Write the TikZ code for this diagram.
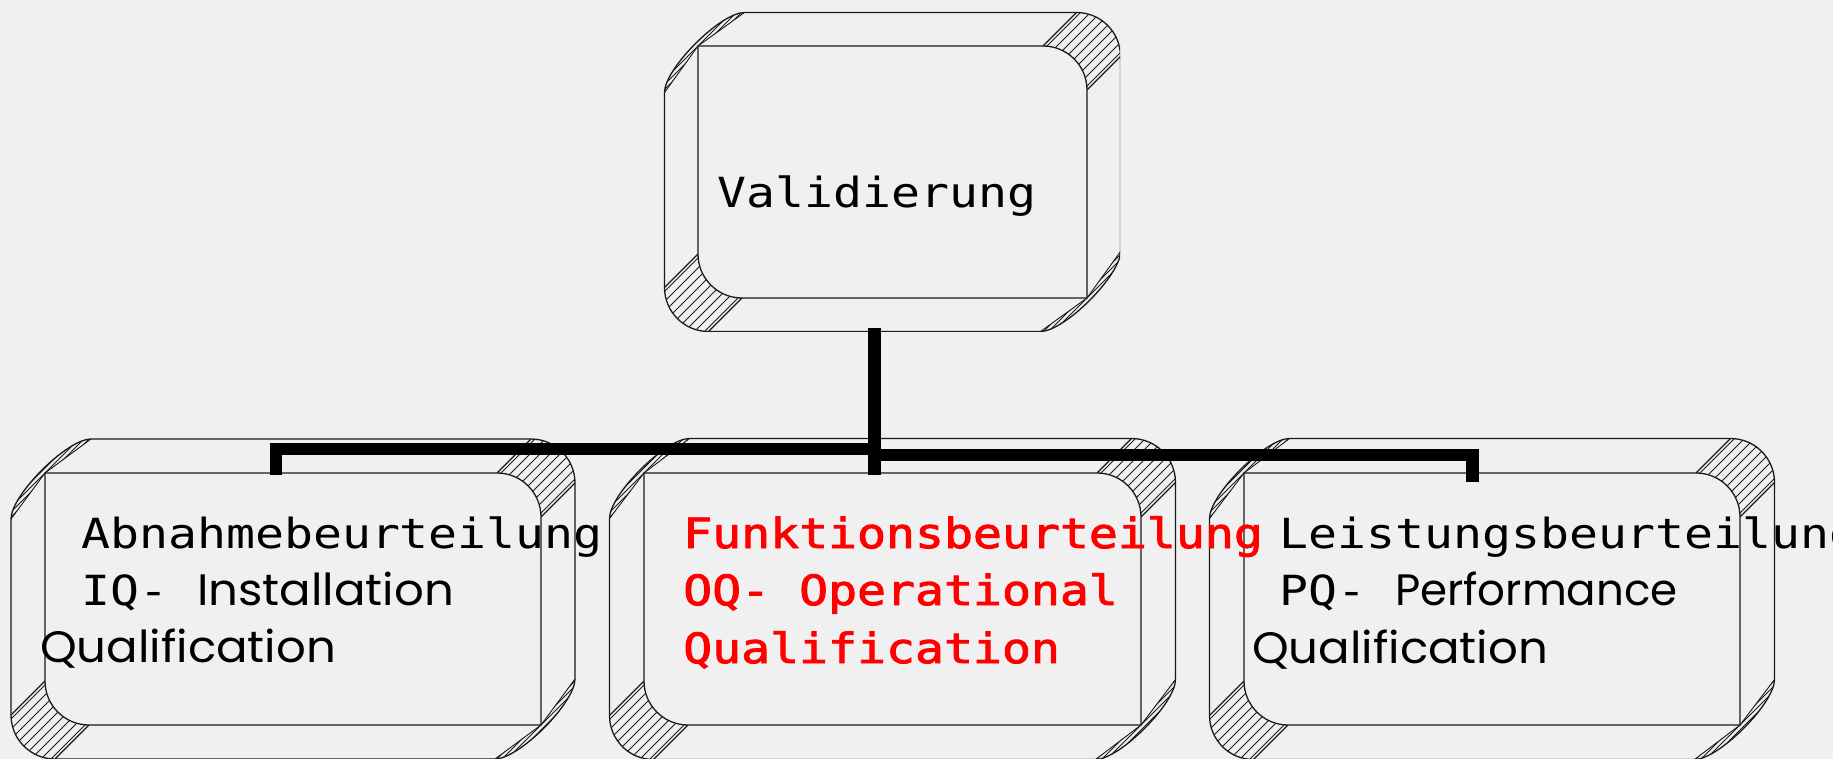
\documentclass[tikz,border=0pt]{standalone}
\usepackage{fontspec}
\newfontfamily\monofam[FakeStretch=1.16]{DejaVu Sans Mono}
\newfontfamily\monoboldfam[FakeStretch=1.16,FakeBold=2.2]{DejaVu Sans Mono}
\newfontfamily\handfam[FakeStretch=1.06]{Poppins}
\definecolor{bg}{HTML}{F0F0F0}
\definecolor{edge}{HTML}{1A1A1A}
\tikzset{
  frame/.style={draw=edge, line width=1.3pt},
  hline/.style={draw=edge, line width=0.9pt},
  area/.style={draw=none, inner sep=0pt, rectangle},
  conn/.style={draw=black, line width=12.5pt, line cap=butt, line join=miter},
  monotxt/.style={font=\monofam\fontsize{41.5pt}{50pt}\selectfont, anchor=base west, inner sep=0pt, text=black},
  redtxt/.style={monotxt, font=\monoboldfam\fontsize{41.5pt}{50pt}\selectfont, text=red},
  handtxt/.style={font=\handfam\fontsize{44pt}{50pt}\selectfont, anchor=base west, inner sep=0pt, text=black},
}
\newcommand\handsz{\handfam\fontsize{44pt}{50pt}\selectfont}
% 45 degree hatching around (#1,#2) with spacing #3, inside the current clip
\newcommand\hatchlines[3]{%
  \foreach \t in {-160,-\the\numexpr160-#3\relax,...,160}
    \draw[hline] (#1+\t-150,#2+150) -- (#1+\t+150,#2-150);%
}
% bevelled frame: inner rectangle (#1,#2)-(#3,#4), bevel depth #5
\def\rr{44}\def\kk{24.3}\def\RR{80}\def\cc{24}
\newcommand\bevelbox[5]{%
  \pgfmathsetmacro\bxA{#1-#5}\pgfmathsetmacro\byA{#2-#5}%
  \pgfmathsetmacro\bxB{#3+#5}\pgfmathsetmacro\byB{#4+#5}%
  % upper right face
  \begin{scope}
    \clip (#3-\rr,#2) .. controls (#3-\rr+\kk,#2) and (#3,#2+\rr-\kk) .. (#3,#2+\rr)
      -- (\bxB,\byA+\rr) .. controls (\bxB,\byA+\rr-\kk) and (\bxB-\rr+\kk,\byA) .. (\bxB-\rr,\byA) -- cycle;
    \hatchlines{#3}{#2}{10}
  \end{scope}
  \draw[frame] (#3,#2+\rr) -- (\bxB,\byA+\rr) (#3-\rr,#2) -- (\bxB-\rr,\byA);
  % lower left face
  \begin{scope}
    \clip (#1,#4-\rr) .. controls (#1,#4-\rr+\kk) and (#1+\rr-\kk,#4) .. (#1+\rr,#4)
      -- (\bxA+\rr,\byB) .. controls (\bxA+\rr-\kk,\byB) and (\bxA,\byB-\rr+\kk) .. (\bxA,\byB-\rr) -- cycle;
    \hatchlines{#1}{#4}{10}
  \end{scope}
  \draw[frame] (#1,#4-\rr) -- (\bxA,\byB-\rr) (#1+\rr,#4) -- (\bxA+\rr,\byB);
  % thin edge strips
  \begin{scope}
    \clip (\bxA,\byA+\RR) .. controls (\bxA,\byA+\RR-\cc) and (\bxA+\RR-\cc,\byA) .. (\bxA+\RR,\byA) -- (#1,#2) -- cycle;
    \hatchlines{#1}{#2}{5}
  \end{scope}
  \draw[hline] (\bxA,\byA+\RR) -- (#1,#2) -- (\bxA+\RR,\byA);
  \begin{scope}
    \clip (\bxB,\byB-\RR) .. controls (\bxB,\byB-\RR+\cc) and (\bxB-\RR+\cc,\byB) .. (\bxB-\RR,\byB) -- (#3,#4) -- cycle;
    \hatchlines{#3}{#4}{5}
  \end{scope}
  \draw[hline] (\bxB,\byB-\RR) -- (#3,#4) -- (\bxB-\RR,\byB);
  % outer outline
  \draw[frame] (\bxA,\byA+\RR) .. controls (\bxA,\byA+\RR-\cc) and (\bxA+\RR-\cc,\byA) .. (\bxA+\RR,\byA)
    -- (\bxB-\rr,\byA) .. controls (\bxB-\rr+\kk,\byA) and (\bxB,\byA+\rr-\kk) .. (\bxB,\byA+\rr)
    -- (\bxB,\byB-\RR) .. controls (\bxB,\byB-\RR+\cc) and (\bxB-\RR+\cc,\byB) .. (\bxB-\RR,\byB)
    -- (\bxA+\rr,\byB) .. controls (\bxA+\rr-\kk,\byB) and (\bxA,\byB-\rr+\kk) .. (\bxA,\byB-\rr) -- cycle;
  % front face
  \draw[frame] (#1,#2) -- (#3-\rr,#2) .. controls (#3-\rr+\kk,#2) and (#3,#2+\rr-\kk) .. (#3,#2+\rr)
    -- (#3,#4) -- (#1+\rr,#4) .. controls (#1+\rr-\kk,#4) and (#1,#4-\rr+\kk) .. (#1,#4-\rr) -- cycle;
}
\begin{document}
\begin{tikzpicture}[x=1pt,y=-1pt]
  \clip (0,0) rectangle (1833,759);
  \fill[bg] (0,0) rectangle (1833,759);

  % boxes
  \begin{scope}
    \clip (0,0) rectangle (1120,331);
    \bevelbox{698}{46}{1087}{298}{33.5}
  \end{scope}
  \bevelbox{45}{473}{541}{725}{34}
  \bevelbox{644}{473}{1141}{725}{34.5}
  \bevelbox{1244}{473}{1740}{725}{34.5}

  % node areas (front faces)
  \node[area, minimum width=389pt, minimum height=252pt] (val) at (892.5,172) {};
  \node[area, minimum width=496pt, minimum height=252pt] (iq) at (293,599) {};
  \node[area, minimum width=497pt, minimum height=252pt] (oq) at (892.5,599) {};
  \node[area, minimum width=496pt, minimum height=252pt] (pq) at (1492,599) {};

  % connectors
  \draw[conn] ([xshift=-18pt,yshift=-30pt]val.south) -- ([xshift=-18pt,yshift=-2pt]oq.north);
  \draw[conn] ([xshift=-17pt,yshift=-2pt]iq.north) |- ([xshift=-18pt,yshift=-151pt]val.south);
  \draw[conn] ([xshift=-19.5pt,yshift=-9pt]pq.north) |- ([xshift=-18pt,yshift=-157pt]val.south);

  % labels
  \node[monotxt] (tval) at (717,208) {Validierung};

  \node[monotxt] (iq1) at (81,548) {Abnahmebeurteilung};
  \node[monotxt] (iq2) at (81,605) {IQ- {\handsz Installation}};
  \node[handtxt] (iq3) at (40,662) {Qualification};

  \node[redtxt] (oq1) at (683,548) {Funktionsbeurteilung};
  \node[redtxt] (oq2) at (683,605) {OQ- Operational};
  \node[redtxt] (oq3) at (683,663) {Qualification};

  \node[monotxt] (pq1) at (1279,548) {Leistungsbeurteilung};
  \node[monotxt] (pq2) at (1279,605) {PQ- {\handfam\fontsize{44pt}{50pt}\addfontfeature{FakeStretch=0.99}\selectfont Performance}};
  \node[handtxt] (pq3) at (1252,663) {Qualification};
\end{tikzpicture}
\end{document}
